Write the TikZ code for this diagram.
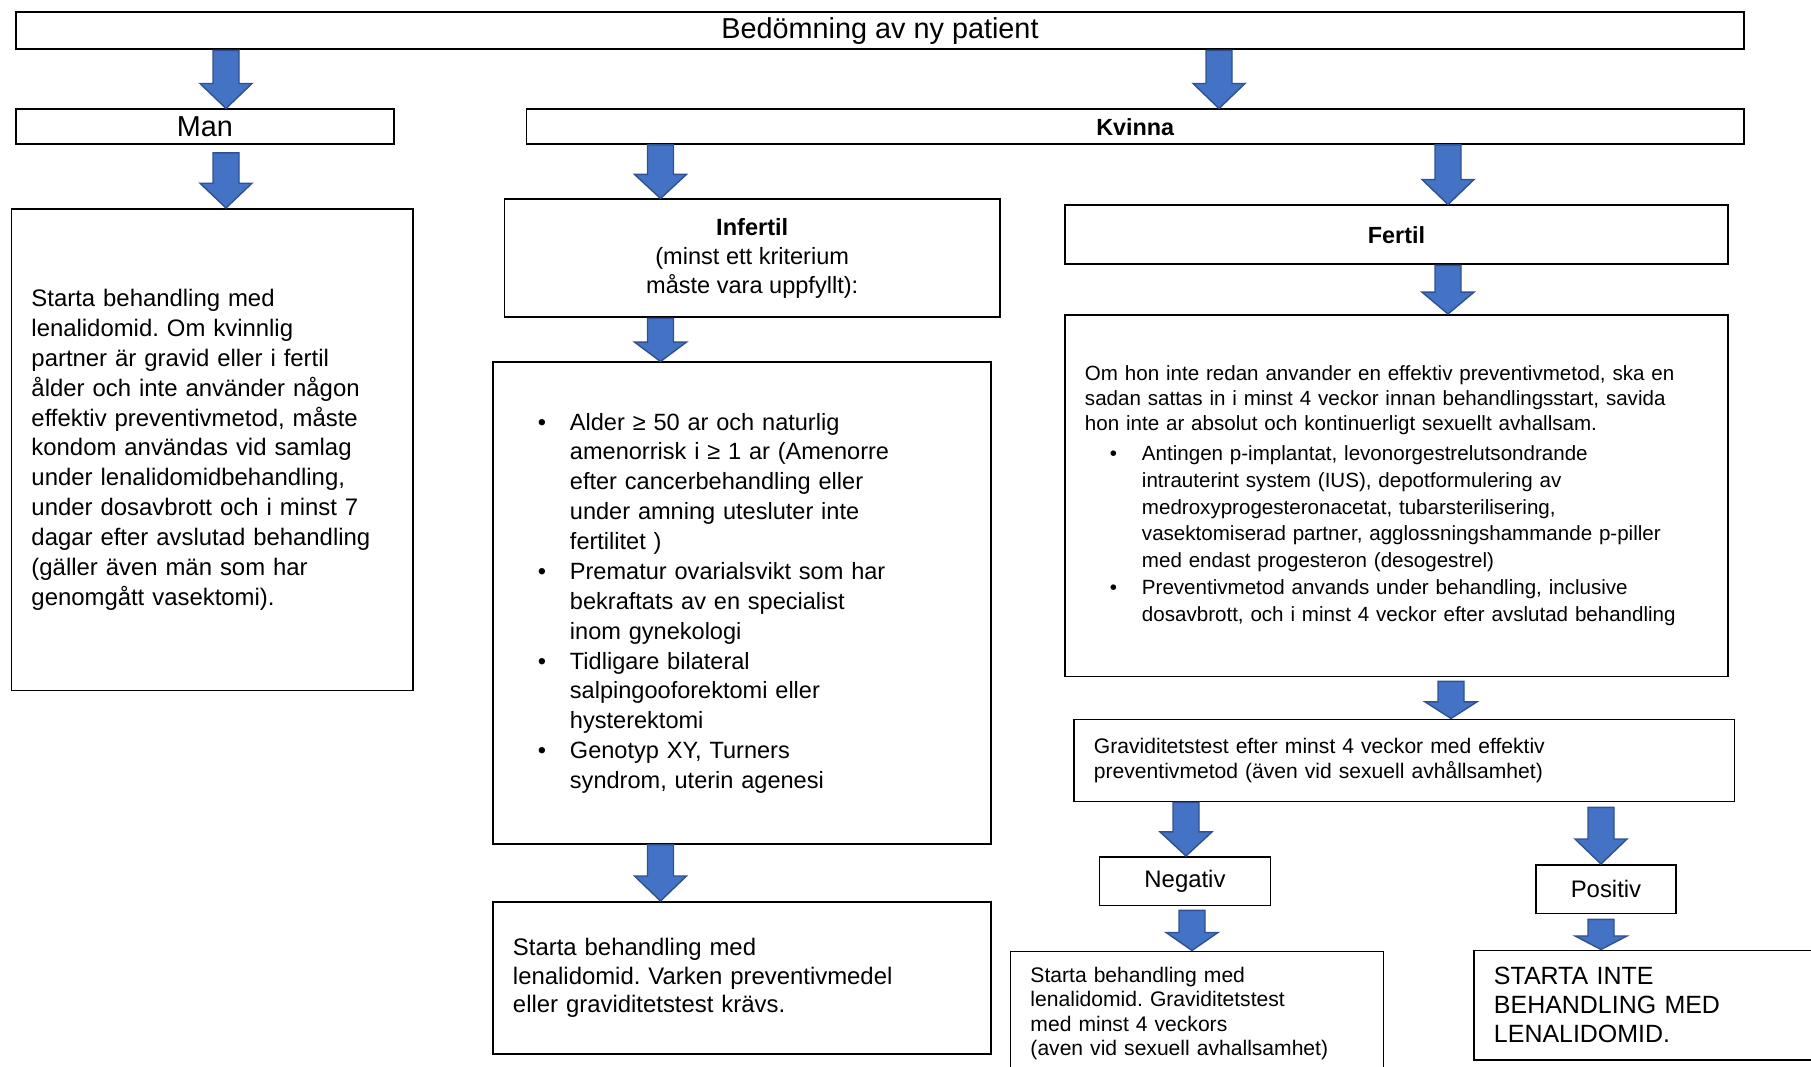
\documentclass[tikz,border=0pt]{standalone}
\usepackage{fontspec}
\setmainfont{Liberation Sans}
\usetikzlibrary{calc}

\definecolor{arrowblue}{HTML}{4472C4}
\definecolor{arrowline}{HTML}{2F528F}

\newcommand{\itembul}{\hspace*{0.5cm}\makebox[0.64cm][l]{\textbullet}}
\newcommand{\itemcont}{\hspace*{1.14cm}}
\frenchspacing

\begin{document}
\begin{tikzpicture}[
    box/.style = {draw, line width=1.1pt, rectangle, anchor=north west, inner sep=0pt},
    textbox/.style = {box, align=left, inner xsep=0.4cm},
    blockarrow/.style = {fill=arrowblue, draw=arrowline, line width=0.8pt,
      to path={let \p1=(\tikztostart), \p2=(\tikztotarget),
        \n1={min(0.5cm,0.45*(\y1-#1-\y2))} in
        (\x1-0.26cm,\y1-#1) -- (\x1+0.26cm,\y1-#1) -- (\x1+0.26cm,\y2+\n1*1pt)
        -- (\x1+0.52cm,\y2+\n1*1pt) -- (\x1,\y2) -- (\x1-0.52cm,\y2+\n1*1pt)
        -- (\x1-0.26cm,\y2+\n1*1pt) -- cycle}},
    blockarrow/.default = 0pt]

    \useasboundingbox (0,0) rectangle (36.22,-21.34);

    % columns of the arrows
    \coordinate (c1) at (4.52,0);
    \coordinate (c2) at (24.38,0);
    \coordinate (c3) at (13.21,0);
    \coordinate (c4) at (28.96,0);
    \coordinate (c5) at (29.02,0);
    \coordinate (c6) at (23.72,0);
    \coordinate (c7) at (32.02,0);
    \coordinate (c8) at (23.84,0);

    \node[box, minimum width=34.56cm, minimum height=0.74cm, font=\fontsize{16.4}{19}\selectfont] (top) at (0.30,-0.23) {Bedömning av ny patient};

    \node[box, minimum width=7.56cm, minimum height=0.69cm, font=\fontsize{16.4}{19}\selectfont] (man) at (0.30,-2.17) {Man};
    \node[box, minimum width=24.35cm, minimum height=0.69cm, font=\fontsize{13.3}{16}\selectfont\bfseries] (kvinna) at (10.51,-2.17) {Kvinna};

    \node[textbox, text width=7.23cm, minimum height=9.63cm, font=\fontsize{13.6}{17}\selectfont] (mantext) at (0.21,-4.16)
      {Starta behandling med\\
       lenalidomid. Om kvinnlig\\
       partner är gravid eller i fertil\\
       ålder och inte använder någon\\
       effektiv preventivmetod, måste\\
       kondom användas vid samlag\\
       under lenalidomidbehandling,\\
       under dosavbrott och i minst 7\\
       dagar efter avslutad behandling\\
       (gäller även män som har\\
       genomgått vasektomi).};

    \node[box, minimum width=9.91cm, minimum height=2.36cm, align=center, font=\fontsize{13.4}{16.4}\selectfont] (infertil) at (10.07,-3.97)
      {\textbf{Infertil}\\(minst ett kriterium\\måste vara uppfyllt):};
    \node[box, minimum width=13.26cm, minimum height=1.18cm, font=\fontsize{13.3}{16}\selectfont\bfseries] (fertil) at (21.28,-4.09) {Fertil};

    \node[textbox, text width=9.16cm, minimum height=9.63cm, font=\fontsize{13.4}{17}\selectfont] (inflist) at (9.84,-7.23)
      {\itembul Alder ≥ 50 ar och naturlig\\
       \itemcont amenorrisk i ≥ 1 ar (Amenorre\\
       \itemcont efter cancerbehandling eller\\
       \itemcont under amning utesluter inte\\
       \itemcont fertilitet )\\
       \itembul Prematur ovarialsvikt som har\\
       \itemcont bekraftats av en specialist\\
       \itemcont inom gynekologi\\
       \itembul Tidligare bilateral\\
       \itemcont salpingooforektomi eller\\
       \itemcont hysterektomi\\
       \itembul Genotyp XY, Turners\\
       \itemcont syndrom, uterin agenesi};

    \node[textbox, text width=12.46cm, minimum height=7.23cm, font=\fontsize{11.7}{14.2}\selectfont] (fertext) at (21.28,-6.28)
      {Om hon inte redan anvander en effektiv preventivmetod, ska en\\
       sadan sattas in i minst 4 veckor innan behandlingsstart, savida\\
       hon inte ar absolut och kontinuerligt sexuellt avhallsam.\\[0.1cm]
       \itembul Antingen p-implantat, levonorgestrelutsondrande\\[0.04cm]
       \itemcont intrauterint system (IUS), depotformulering av\\[0.04cm]
       \itemcont medroxyprogesteronacetat, tubarsterilisering,\\[0.04cm]
       \itemcont vasektomiserad partner, agglossningshammande p-piller\\[0.04cm]
       \itemcont med endast progesteron (desogestrel)\\[0.04cm]
       \itembul Preventivmetod anvands under behandling, inclusive\\[0.04cm]
       \itemcont dosavbrott, och i minst 4 veckor efter avslutad behandling};

    \node[textbox, text width=9.16cm, minimum height=3.04cm, font=\fontsize{13.6}{16.4}\selectfont] (infstart) at (9.84,-18.02)
      {Starta behandling med\\
       lenalidomid. Varken preventivmedel\\
       eller graviditetstest krävs.};

    \node[textbox, text width=12.41cm, minimum height=1.64cm, font=\fontsize{12}{14.7}\selectfont] (grav) at (21.46,-14.37)
      {Graviditetstest efter minst 4 veckor med effektiv\\
       preventivmetod (även vid sexuell avhållsamhet)};

    \node[box, minimum width=3.42cm, minimum height=0.97cm, font=\fontsize{13.6}{16}\selectfont] (negativ) at (21.97,-17.12) {Negativ};
    \node[box, minimum width=2.80cm, minimum height=0.97cm, font=\fontsize{13.6}{16}\selectfont] (positiv) at (30.70,-17.28) {Positiv};

    \node[textbox, text width=6.66cm, minimum height=2.49cm, font=\fontsize{12}{13.9}\selectfont] (negstart) at (20.19,-19.01)
      {Starta behandling med\\
       lenalidomid. Graviditetstest\\
       med minst 4 veckors\\
       (aven vid sexuell avhallsamhet)};
    \node[textbox, text width=6.34cm, minimum height=2.19cm, font=\fontsize{14.2}{16.4}\selectfont] (posstart) at (29.46,-18.99)
      {STARTA INTE\\
       BEHANDLING MED\\
       LENALIDOMID.};

    \path
    (top.south -| c1) edge[blockarrow] (man.north -| c1)
    (top.south -| c2) edge[blockarrow] (kvinna.north -| c2)
    (man.south -| c1) edge[blockarrow=0.16cm] (mantext.north -| c1)
    (kvinna.south -| c3) edge[blockarrow] (infertil.north -| c3)
    (kvinna.south -| c4) edge[blockarrow] (fertil.north -| c4)
    (infertil.south -| c3) edge[blockarrow] (inflist.north -| c3)
    (fertil.south -| c4) edge[blockarrow] (fertext.north -| c4)
    (inflist.south -| c3) edge[blockarrow] (infstart.north -| c3)
    (fertext.south -| c5) edge[blockarrow=0.08cm] (grav.north -| c5)
    (grav.south -| c6) edge[blockarrow] (negativ.north -| c6)
    (grav.south -| c7) edge[blockarrow=0.1cm] (positiv.north -| c7)
    (negativ.south -| c8) edge[blockarrow=0.08cm] (negstart.north -| c8)
    (positiv.south -| c7) edge[blockarrow=0.1cm] (posstart.north -| c7)
    ;
\end{tikzpicture}
\end{document}
